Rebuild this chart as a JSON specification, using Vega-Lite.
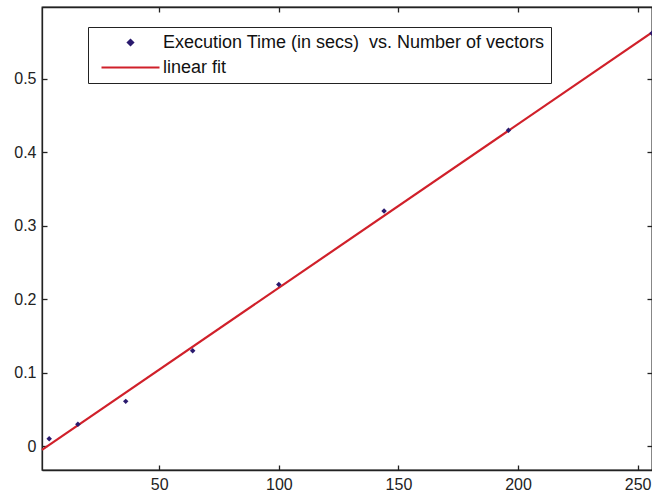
{
  "$schema": "https://vega.github.io/schema/vega-lite/v6.json",
  "width": 610,
  "height": 463,
  "autosize": {"type": "none"},
  "padding": {"left": 42, "top": 7, "right": 0, "bottom": 28},
  "background": "white",
  "config": {
    "view": {"stroke": "#222222", "strokeWidth": 1.3},
    "font": "Liberation Sans",
    "axis": {
      "domainColor": "#222222",
      "domainWidth": 1.3,
      "tickColor": "#222222",
      "tickWidth": 1.3,
      "grid": false,
      "labelFont": "Liberation Sans",
      "labelFontSize": 16,
      "labelColor": "#222222",
      "title": null
    }
  },
  "datasets": {
    "obs": [
      {"vectors": 4, "time": 0.01, "series": "Execution Time (in secs)  vs. Number of vectors"},
      {"vectors": 16, "time": 0.03, "series": "Execution Time (in secs)  vs. Number of vectors"},
      {"vectors": 36, "time": 0.061, "series": "Execution Time (in secs)  vs. Number of vectors"},
      {"vectors": 64, "time": 0.13, "series": "Execution Time (in secs)  vs. Number of vectors"},
      {"vectors": 100, "time": 0.22, "series": "Execution Time (in secs)  vs. Number of vectors"},
      {"vectors": 144, "time": 0.32, "series": "Execution Time (in secs)  vs. Number of vectors"},
      {"vectors": 196, "time": 0.43, "series": "Execution Time (in secs)  vs. Number of vectors"},
      {"vectors": 256, "time": 0.562, "series": "Execution Time (in secs)  vs. Number of vectors"}
    ],
    "fit": [
      {"vectors": 1, "time": -0.0049, "series": "linear fit"},
      {"vectors": 256, "time": 0.563, "series": "linear fit"}
    ]
  },
  "resolve": {"axis": {"x": "independent", "y": "independent"}},
  "layer": [
    {
      "data": {"name": "fit"},
      "mark": {"type": "line", "strokeWidth": 2.2},
      "encoding": {
        "x": {
          "field": "vectors", "type": "quantitative",
          "scale": {"domain": [1, 256], "nice": false, "zero": false},
          "axis": {"orient": "bottom", "values": [50, 100, 150, 200, 250], "tickSize": -5, "labelPadding": 11}
        },
        "y": {
          "field": "time", "type": "quantitative",
          "scale": {"domain": [-0.0324, 0.5977], "nice": false, "zero": false},
          "axis": {"orient": "left", "values": [0, 0.1, 0.2, 0.3, 0.4, 0.5], "format": "~g", "tickSize": -5, "labelPadding": 11}
        },
        "color": {
          "field": "series", "type": "nominal",
          "scale": {
            "domain": ["Execution Time (in secs)  vs. Number of vectors", "linear fit"],
            "range": ["#2a1a6e", "#d0202a"]
          },
          "legend": {
            "orient": "none",
            "legendX": 46,
            "legendY": 20,
            "title": null,
            "padding": 6.5,
            "strokeColor": "#222222",
            "fillColor": "white",
            "labelFont": "Liberation Sans",
            "labelFontSize": 18,
            "labelColor": "#111111",
            "labelLimit": 1000,
            "labelExpr": "replace(datum.label, '  ', ' \u00a0')",
            "symbolSize": 20,
            "symbolOffset": 27,
            "labelOffset": 23.5,
            "rowPadding": 7,
            "encode": {
              "symbols": {
                "update": {
                  "shape": {"signal": "datum.value === 'linear fit' ? 'stroke' : 'diamond'"},
                  "size": {"signal": "datum.value === 'linear fit' ? 3364 : 26"},
                  "strokeWidth": {"value": 2.2},
                  "stroke": {"signal": "datum.value === 'linear fit' ? '#d0202a' : 'transparent'"},
                  "fill": {"signal": "datum.value === 'linear fit' ? 'transparent' : '#2a1a6e'"}
                }
              }
            }
          }
        }
      }
    },
    {
      "data": {"name": "obs"},
      "mark": {"type": "point", "filled": true, "shape": "diamond", "size": 30, "opacity": 1},
      "encoding": {
        "x": {
          "field": "vectors", "type": "quantitative",
          "scale": {"domain": [1, 256], "nice": false, "zero": false},
          "axis": {"orient": "top", "values": [50, 100, 150, 200, 250], "tickSize": -5, "labels": false}
        },
        "y": {
          "field": "time", "type": "quantitative",
          "scale": {"domain": [-0.0324, 0.5977], "nice": false, "zero": false},
          "axis": {"orient": "right", "values": [0, 0.1, 0.2, 0.3, 0.4, 0.5], "tickSize": -5, "labels": false}
        },
        "color": {"field": "series", "type": "nominal"}
      }
    }
  ]
}
